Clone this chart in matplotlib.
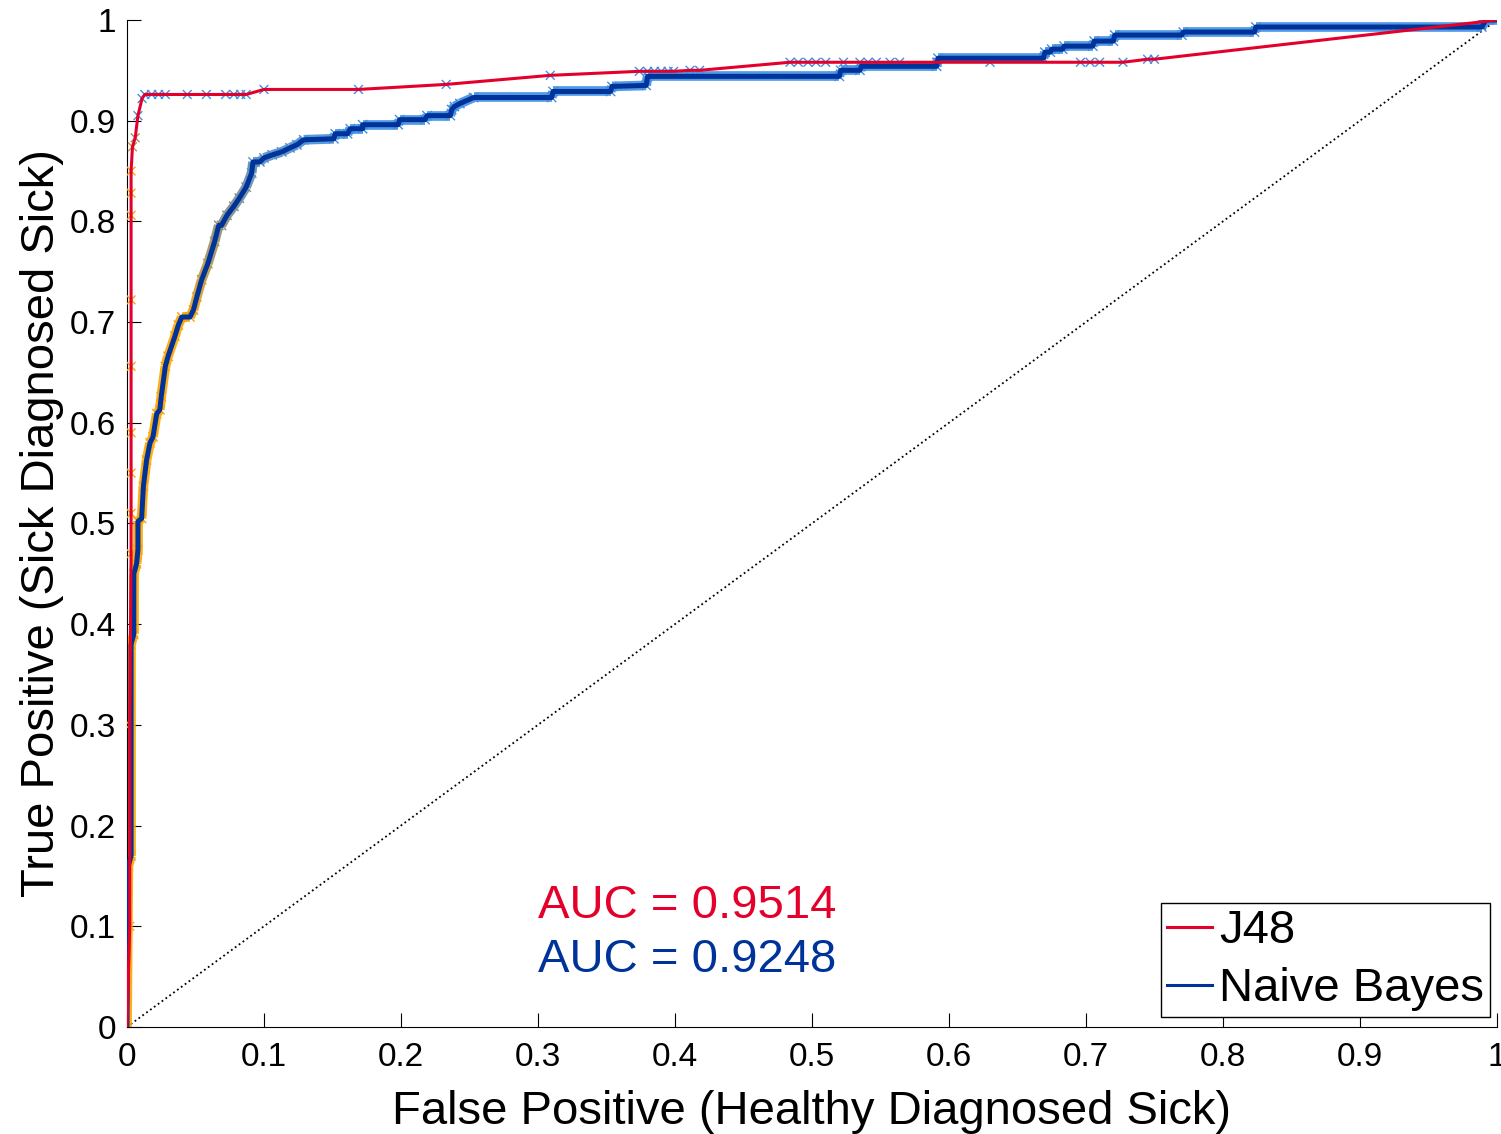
import numpy as np
import matplotlib
matplotlib.use("Agg")
import matplotlib.pyplot as plt
from matplotlib.collections import LineCollection
from matplotlib.colors import LinearSegmentedColormap

plt.rcParams['font.family'] = ['Liberation Sans', 'DejaVu Sans']

# ROC points
j48_fpr = [0, 0.002, 0.002, 0.003, 0.003, 0.003, 0.003, 0.003, 0.003, 0.003, 0.003,
           0.003, 0.004, 0.006, 0.008, 0.011, 0.013, 0.018, 0.023, 0.028, 0.044,
           0.058, 0.072, 0.078, 0.083, 0.087, 0.1, 0.169, 0.233, 0.309, 0.374,
           0.38, 0.385, 0.39, 0.395, 0.399, 0.411, 0.418, 0.484, 0.49, 0.497,
           0.503, 0.51, 0.523, 0.535, 0.541, 0.547, 0.557, 0.564, 0.591, 0.63,
           0.696, 0.703, 0.71, 0.727, 0.745, 0.75, 0.988, 1.0]
j48_tpr = [0, 0.1, 0.3, 0.47, 0.51, 0.55, 0.59, 0.656, 0.722, 0.806, 0.828,
           0.85, 0.874, 0.883, 0.905, 0.922, 0.926, 0.926, 0.926, 0.926, 0.926,
           0.926, 0.926, 0.926, 0.926, 0.926, 0.931, 0.931, 0.936, 0.945, 0.949,
           0.949, 0.949, 0.949, 0.949, 0.949, 0.95, 0.95, 0.958, 0.958, 0.958,
           0.958, 0.958, 0.958, 0.958, 0.958, 0.958, 0.958, 0.958, 0.958, 0.958,
           0.958, 0.958, 0.958, 0.958, 0.961, 0.961, 0.998, 1.0]

nb_fpr = [0, 0.001, 0.003, 0.003, 0.005, 0.005, 0.007, 0.008, 0.008, 0.0107,
          0.012, 0.0143, 0.0168, 0.019, 0.0217, 0.024, 0.025, 0.028, 0.03, 0.035,
          0.0375, 0.04, 0.046, 0.0485, 0.051, 0.0545, 0.059, 0.064, 0.067, 0.069,
          0.073, 0.078, 0.082, 0.087, 0.091, 0.092, 0.097, 0.1, 0.106, 0.113,
          0.119, 0.124, 0.129, 0.151, 0.152, 0.161, 0.163, 0.172, 0.172, 0.198,
          0.199, 0.2175, 0.219, 0.236, 0.237, 0.239, 0.243, 0.253, 0.31, 0.311,
          0.353, 0.354, 0.379, 0.38, 0.52, 0.521, 0.535, 0.536, 0.591, 0.592,
          0.669, 0.67, 0.674, 0.675, 0.683, 0.684, 0.705, 0.706, 0.72, 0.721,
          0.77, 0.771, 0.823, 0.824, 0.989, 0.992, 1.0]
nb_tpr = [0, 0.16, 0.17, 0.38, 0.39, 0.45, 0.46, 0.474, 0.502, 0.505,
          0.537, 0.563, 0.58, 0.586, 0.609, 0.613, 0.626, 0.656, 0.666, 0.686,
          0.697, 0.705, 0.705, 0.712, 0.725, 0.742, 0.758, 0.78, 0.796, 0.796,
          0.806, 0.815, 0.823, 0.834, 0.848, 0.859, 0.859, 0.863, 0.866, 0.869,
          0.873, 0.876, 0.881, 0.882, 0.887, 0.887, 0.892, 0.892, 0.896, 0.896,
          0.901, 0.901, 0.905, 0.905, 0.911, 0.914, 0.917, 0.923, 0.923, 0.929,
          0.929, 0.934, 0.935, 0.944, 0.944, 0.95, 0.95, 0.954, 0.954, 0.962,
          0.962, 0.968, 0.968, 0.971, 0.971, 0.974, 0.974, 0.979, 0.979, 0.985,
          0.985, 0.988, 0.988, 0.993, 0.993, 1.0, 1.0]

j48_auc = 0.9514
nb_auc = 0.9248
labels = ['J48', 'Naive Bayes']
ticks = [0, 0.1, 0.2, 0.3, 0.4, 0.5, 0.6, 0.7, 0.8, 0.9, 1]
tick_labels = ['0', '0.1', '0.2', '0.3', '0.4', '0.5', '0.6', '0.7', '0.8', '0.9', '1']

red = '#E4002B'
blue = '#003399'
# marker colour runs orange -> grey -> light blue
cmap = LinearSegmentedColormap.from_list('thr', ['#FFA500', '#8E8E74', '#3F8FE4'])

fig = plt.figure(figsize=(15.01, 11.34), dpi=100)
ax = fig.add_axes([0.0846, 0.0944, 0.9127, 0.888])

# chance line
ax.plot([0, 1], [0, 1], ':', color='black', lw=1.3, zorder=1)

# Naive Bayes: coloured marker band under the line
nb_x = np.array(nb_fpr)
nb_y = np.array(nb_tpr)
pts = np.column_stack([nb_x, nb_y]).reshape(-1, 1, 2)
segs = np.concatenate([pts[:-1], pts[1:]], axis=1)
seg_c = np.clip((nb_y[1:] - 0.7) / 0.19, 0, 1)
band = LineCollection(segs, colors=cmap(seg_c), linewidths=7, alpha=0.9, zorder=2)
ax.add_collection(band)
ax.scatter(nb_x, nb_y, marker='x', s=45, lw=1,
           c=cmap(np.clip((nb_y - 0.7) / 0.19, 0, 1)), zorder=2)

# J48 markers
j_x = np.array(j48_fpr)
j_y = np.array(j48_tpr)
ax.scatter(j_x, j_y, marker='x', s=40, lw=1,
           c=cmap(np.clip((j_y - 0.86) / 0.05, 0, 1)), zorder=3)

l2, = ax.plot(nb_x, nb_y, color=blue, lw=3.6, zorder=4)
l1, = ax.plot(j_x, j_y, color=red, lw=2.2, zorder=5)

ax.text(0.3, 0.108, 'AUC = %.4f' % j48_auc, color=red, fontsize=34)
ax.text(0.3, 0.0545, 'AUC = %.4f' % nb_auc, color=blue, fontsize=34)

leg = ax.legend([l1, l2], labels, loc='upper right', bbox_to_anchor=(0.9949, 0.1231),
                borderaxespad=0, fontsize=34, handlelength=0.95, handletextpad=0.15,
                labelspacing=0.3, borderpad=0.13, fancybox=False, framealpha=1)
leg.get_frame().set_edgecolor('black')
leg.get_frame().set_linewidth(1.0)
for h in leg.get_lines():
    h.set_linewidth(2.2)

ax.set_xlim(0, 1)
ax.set_ylim(0, 1)
ax.set_xticks(ticks)
ax.set_xticklabels(tick_labels)
ax.set_yticks(ticks)
ax.set_yticklabels(tick_labels)
ax.tick_params(direction='in', length=10, width=0.8, labelsize=24)
ax.tick_params(axis='x', pad=11)
ax.tick_params(axis='y', pad=8)
ax.spines['top'].set_visible(False)
ax.spines['right'].set_visible(False)
ax.set_xlabel('False Positive (Healthy Diagnosed Sick)', fontsize=34, labelpad=12)
ax.set_ylabel('True Positive (Sick Diagnosed Sick)', fontsize=34, labelpad=4)

fig.savefig('out.png', dpi=100, facecolor='white')
